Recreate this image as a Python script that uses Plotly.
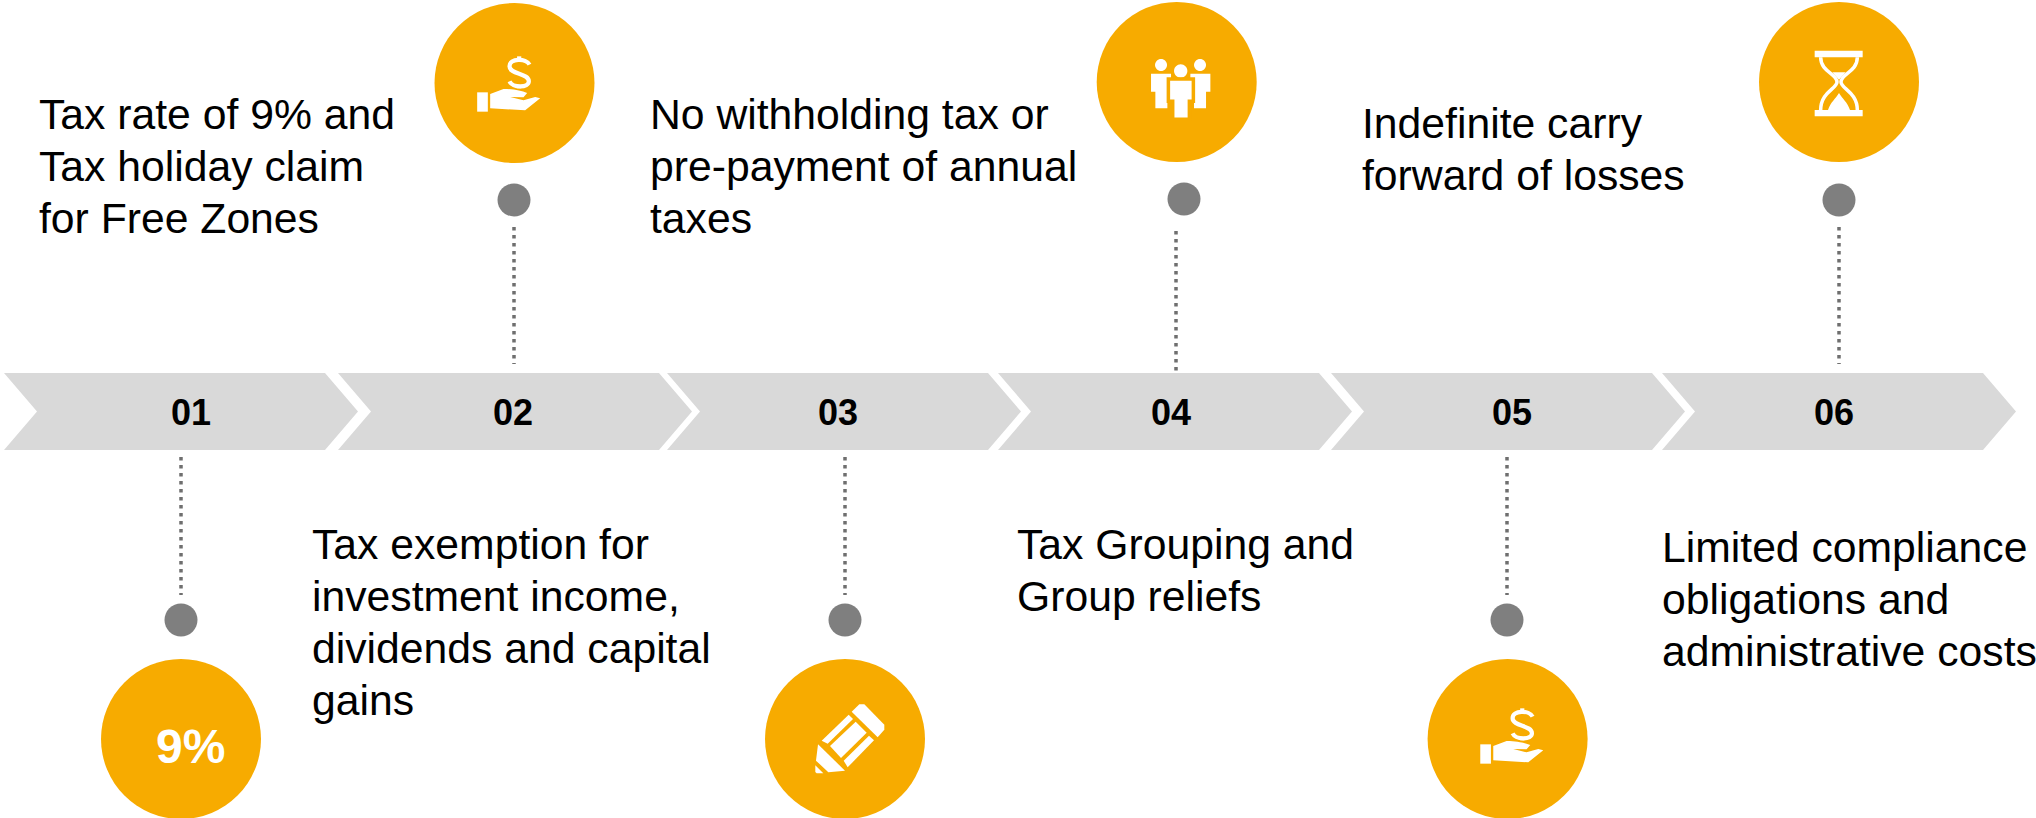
import plotly.graph_objects as go

W, H = 2036, 818
# ---- data ----
step_labels = ["01", "02", "03", "04", "05", "06"]
step_left = [4, 338, 667, 998, 1331, 1662]
step_label_x = [191, 513, 838, 1171, 1512, 1834]
step_top, step_bottom, chevron_len, chevron_notch = 373, 450, 354, 33

circle_x = [181, 514.5, 845, 1176.7, 1507.6, 1839]
circle_y = [739, 83, 739, 82, 739, 82]
dot_x = [181, 514, 845, 1184, 1507, 1839]
dot_y = [620, 200, 620, 199, 620, 200]
conn_x = [181, 514, 845, 1176, 1507, 1839]
conn_y0 = [457, 227, 457, 231, 457, 227]
conn_y1 = [595, 364, 595, 374, 595, 364]

text_lines = [
    ["Tax rate of 9% and", "Tax holiday claim", "for Free Zones"],
    ["Tax exemption for", "investment income,", "dividends and capital", "gains"],
    ["No withholding tax or", "pre-payment of annual", "taxes"],
    ["Tax Grouping and", "Group reliefs"],
    ["Indefinite carry", "forward of losses"],
    ["Limited compliance", "obligations and", "administrative costs"],
]
text_x = [37.5, 311, 649, 1015.5, 1360.5, 1660.5]
text_y = [114, 544, 114, 544, 123, 547]
LINE_PITCH = 52

ORANGE, GRAY, CHEV = "#F7AB00", "#7F7F7F", "#D9D9D9"
FONT = "Liberation Sans, Arial, sans-serif"

fig = go.Figure()

# chevrons
for left in step_left:
    mid = (step_top + step_bottom) / 2
    fig.add_trace(go.Scatter(
        x=[left, left + chevron_len - chevron_notch, left + chevron_len,
           left + chevron_len - chevron_notch, left, left + chevron_notch, left],
        y=[step_top, step_top, mid, step_bottom, step_bottom, mid, step_top],
        mode="lines", fill="toself", fillcolor=CHEV, line=dict(width=0),
        hoverinfo="skip", showlegend=False))

# dotted connectors
for x, y0, y1 in zip(conn_x, conn_y0, conn_y1):
    fig.add_trace(go.Scatter(x=[x, x], y=[y0, y1], mode="lines",
                             line=dict(color="#6F6F6F", width=3.5, dash="3.5px,4.5px"),
                             hoverinfo="skip", showlegend=False))

# small dots and big circles
fig.add_trace(go.Scatter(x=dot_x, y=dot_y, mode="markers",
                         marker=dict(size=33, color=GRAY, line=dict(width=0)),
                         hoverinfo="skip", showlegend=False))
fig.add_trace(go.Scatter(x=circle_x, y=circle_y, mode="markers",
                         marker=dict(size=160, color=ORANGE, line=dict(width=0)),
                         hoverinfo="skip", showlegend=False))


def P(cx, cy, cmds):
    """Icon outline: offsets are given on a 3x grid around the icon centre."""
    out = []
    for c in cmds:
        if isinstance(c, str):
            out.append(c)
        else:
            out.append(f"{cx + c[0] / 3:.2f},{cy + c[1] / 3:.2f}")
    return " ".join(out)


shapes = []


def fill(cx, cy, cmds, color="white", lw=0):
    shapes.append(dict(type="path", xref="x", yref="y", layer="above", path=P(cx, cy, cmds),
                       fillcolor=color, line=dict(color=ORANGE, width=lw)))


def stroke(cx, cy, cmds, w):
    shapes.append(dict(type="path", xref="x", yref="y", layer="above", path=P(cx, cy, cmds),
                       fillcolor="rgba(0,0,0,0)", line=dict(color="white", width=w)))


def hand(cx, cy):
    fill(cx, cy, ["M", (-112, 28), "L", (-80, 28), "L", (-80, 86), "L", (-112, 86), "Z"])
    fill(cx, cy, ["M", (-73, 33), "L", (-33, 18), "C", (0, 18), (20, 24), (38, 30),
                  "L", (27, 43), "L", (-13, 42), "L", (27, 52), "L", (62, 42), "L", (77, 46),
                  "L", (32, 82), "L", (-73, 76), "Z"])
    stroke(cx, cy, ["M", (45, -55), "C", (35, -75), (-15, -75), (-15, -50),
                    "C", (-15, -25), (43, -30), (43, -5), "C", (43, 15), (-5, 15), (-15, -5)], 4.2)
    stroke(cx, cy, ["M", (14, -80), "L", (14, -69)], 4.2)
    stroke(cx, cy, ["M", (14, 8), "L", (14, 16)], 4.2)


def people(cx, cy):
    def head(x, y, r):
        k = 0.55 * r
        fill(cx, cy, ["M", (x - r, y), "C", (x - r, y - k), (x - k, y - r), (x, y - r),
                      "C", (x + k, y - r), (x + r, y - k), (x + r, y),
                      "C", (x + r, y + k), (x + k, y + r), (x, y + r),
                      "C", (x - k, y + r), (x - r, y + k), (x - r, y), "Z"])
    head(-47, -51, 18)
    head(12, -33, 20)
    head(70, -51, 18)
    fill(cx, cy, ["M", (-77, -25), "L", (-17, -25), "L", (-17, 30), "L", (-28, 30), "L", (-28, 79),
                  "L", (-64, 79), "L", (-64, 29), "L", (-77, 29), "Z"])
    fill(cx, cy, ["M", (41, -25), "L", (101, -25), "L", (101, 29), "L", (88, 29), "L", (88, 79),
                  "L", (52, 79), "L", (52, 30), "L", (41, 30), "Z"])
    fill(cx, cy, ["M", (-25, -9), "L", (50, -9), "L", (50, 58), "L", (38, 58), "L", (38, 112),
                  "L", (-12, 112), "L", (-12, 58), "L", (-25, 58), "Z"], lw=3.5)


def hourglass(cx, cy):
    fill(cx, cy, ["M", (-73, -94), "L", (71, -94), "L", (71, -74), "L", (-73, -74), "Z"])
    fill(cx, cy, ["M", (-73, 84), "L", (71, 84), "L", (71, 103), "L", (-73, 103), "Z"])
    stroke(cx, cy, ["M", (-55, -74), "C", (-55, -30), (-6, -25), (-6, 0),
                    "C", (-6, 20), (-55, 30), (-55, 84)], 3.5)
    stroke(cx, cy, ["M", (55, -74), "C", (55, -30), (6, -25), (6, 0),
                    "C", (6, 20), (55, 30), (55, 84)], 3.5)
    fill(cx, cy, ["M", (-20, -29), "L", (20, -29), "L", (0, -7), "Z"])
    fill(cx, cy, ["M", (-33, 84), "C", (-25, 60), (-10, 50), (0, 33),
                  "C", (10, 50), (25, 60), (33, 84), "Z"])


def pencil(cx, cy):
    fill(cx, cy, ["M", (20, -82), "L", (43, -104), "L", (58, -104), "L", (118, -43),
                  "L", (118, -28), "L", (98, -5), "Z"])
    fill(cx, cy, ["M", (-70, 5), "L", (11, -73), "L", (24, -60), "L", (-52, 14), "Z"])
    fill(cx, cy, ["M", (-45, 21), "L", (32, -52), "L", (65, -19), "L", (-12, 57), "Z"])
    fill(cx, cy, ["M", (-4, 65), "L", (72, -10), "L", (87, 4), "L", (8, 85), "Z"])
    fill(cx, cy, ["M", (-81, 16), "L", (0, 95), "L", (-50, 100), "L", (-87, 65), "Z"])
    fill(cx, cy, ["M", (-89, 79), "L", (-65, 103), "L", (-85, 103), "L", (-89, 99), "Z"])


hand(circle_x[1], circle_y[1])
pencil(circle_x[2], circle_y[2])
people(circle_x[3], circle_y[3])
hand(circle_x[4] + 10, circle_y[4] - 4)
hourglass(circle_x[5], circle_y[5])

ann = []
for s, x in zip(step_labels, step_label_x):
    ann.append(dict(x=x, y=(step_top + step_bottom) / 2 + 1, text=f"<b>{s}</b>", showarrow=False,
                    xanchor="center", yanchor="middle",
                    font=dict(family=FONT, size=36, color="#000000")))
for lines, x, y in zip(text_lines, text_x, text_y):
    for i, line in enumerate(lines):
        ann.append(dict(x=x, y=y + i * LINE_PITCH, text=line, showarrow=False, xanchor="left",
                        yanchor="middle", align="left", borderpad=0,
                        font=dict(family=FONT, size=42.7, color="#000000")))
ann.append(dict(x=190, y=746, text="<b>9%</b>", showarrow=False, xanchor="center", yanchor="middle",
                font=dict(family=FONT, size=48, color="white")))

fig.update_layout(
    width=W, height=H, margin=dict(l=0, r=0, t=0, b=0),
    paper_bgcolor="white", plot_bgcolor="white", showlegend=False,
    xaxis=dict(range=[0, W], visible=False, fixedrange=True),
    yaxis=dict(range=[H, 0], visible=False, fixedrange=True),
    shapes=shapes, annotations=ann,
)
fig.write_html("out.html", config={"displayModeBar": False},
               post_script="document.body.style.margin='0';document.body.style.overflow='hidden';")
